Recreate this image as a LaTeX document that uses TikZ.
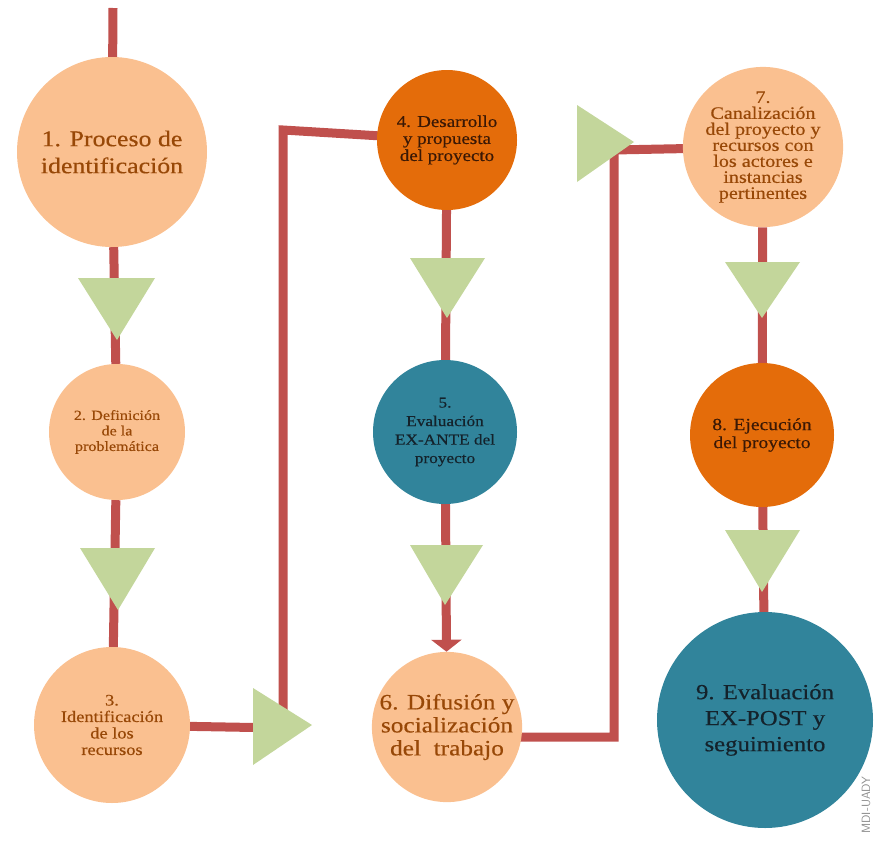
\documentclass[tikz,border=0pt]{standalone}
\usepackage{fontspec}
\setmainfont[FakeStretch=1.15,FakeBold=0.4]{Liberation Serif}
\usetikzlibrary{arrows.meta,backgrounds}
\definecolor{lightor}{HTML}{FAC090}
\definecolor{darkor}{HTML}{E46C0A}
\definecolor{teal}{HTML}{31849B}
\definecolor{tri}{HTML}{C3D69B}
\definecolor{redline}{HTML}{C0504D}
\definecolor{brown}{HTML}{984807}
\definecolor{darktext}{HTML}{3A1805}
\definecolor{tealtext}{HTML}{14222B}
\tikzset{
  stage/.style={circle, fill=lightor, text=brown, align=center, inner sep=0pt},
  stagedark/.style={circle, fill=darkor, text=darktext, align=center, inner sep=0pt},
  stageteal/.style={circle, fill=teal, text=tealtext, align=center, inner sep=0pt},
  link/.style={draw=redline, line width=9pt},
  tribox/.style={fill=tri},
}
\begin{document}
\begin{tikzpicture}[x=1pt,y=-1pt]
\useasboundingbox (0,0) rectangle (875,854);
% nodes
\node[stage, minimum size=190pt, font=\fontsize{22.5}{27}\selectfont] (c1) at (112,152) {1. Proceso de\\identificación};
\node[stage, minimum size=136pt, font=\fontsize{14}{15.5}\selectfont] (c2) at (117,432) {2. Definición\\de la\\problemática};
\node[stage, minimum size=156pt, font=\fontsize{16}{16.5}\selectfont] (c3) at (112,725) {3.\\Identificación\\de los\\recursos};
\node[stagedark, minimum size=140pt, font=\fontsize{16.5}{17}\selectfont] (c4) at (447,140) {4. Desarrollo\\y propuesta\\del proyecto};
\node[stageteal, minimum size=144pt, font=\fontsize{15}{18.5}\selectfont] (c5) at (445,432) {5.\\Evaluación\\EX-ANTE del\\proyecto};
\node[stage, minimum size=150pt, font=\fontsize{22}{23}\selectfont] (c6) at (447,727) {6. Difusión y\\socialización\\del\ \ trabajo};
\node[stage, minimum size=140pt, font=\fontsize{17.5}{16}\selectfont] (c7) at (763,147) {7.\\Canalización\\del proyecto y\\recursos con\\los actores e\\instancias\\pertinentes};
\node[stagedark, minimum size=144pt, font=\fontsize{17}{18}\selectfont] (c8) at (762,435) {8. Ejecución\\del proyecto};
\node[stageteal, minimum size=216pt, font=\fontsize{21.5}{26}\selectfont] (c9) at (765,720) {9. Evaluación\\EX-POST y\\seguimiento};
\node[rotate=90, text=black!45, font=\sffamily\fontsize{12}{12}\selectfont] (wm) at (866,805) {MDI-UADY};
% corner coordinates
\coordinate (s0) at (113,8);
\coordinate (k1) at (283,728);
\coordinate (k2) at (283,130);
\coordinate (k3) at (614,737);
\coordinate (k4) at (614,150);
\begin{scope}[on background layer]
  \draw[link] (s0) -- (c1);
  \draw[link] (c1) -- (c2);
  \draw[link] (c2) -- (c3);
  \draw[link, line join=miter] (c3.center) -- (k1) -- (k2) -- (c4.center);
  \draw[link] (c4) -- (c5);
  \draw[link, -{Triangle[width=30pt,length=12pt]}] (c5) -- (c6);
  \draw[link, line join=miter] (c6.center |- k3) -- (k3) -- (k4) -- (c7.center);
  \draw[link] (c7) -- (c8);
  \draw[link] (c8) -- (c9);
\end{scope}
% green triangles
\fill[tribox] (78,278) -- (155,278) -- (117,340) -- cycle;
\fill[tribox] (80,548) -- (155,548) -- (118,610) -- cycle;
\fill[tribox] (410,258) -- (485,258) -- (447,318) -- cycle;
\fill[tribox] (410,545) -- (483,545) -- (445,605) -- cycle;
\fill[tribox] (725,262) -- (800,262) -- (762,318) -- cycle;
\fill[tribox] (725,530) -- (800,530) -- (762,592) -- cycle;
\fill[tribox] (253,688) -- (253,765) -- (312,725) -- cycle;
\fill[tribox] (577,105) -- (577,182) -- (634,142) -- cycle;
\end{tikzpicture}
\end{document}
